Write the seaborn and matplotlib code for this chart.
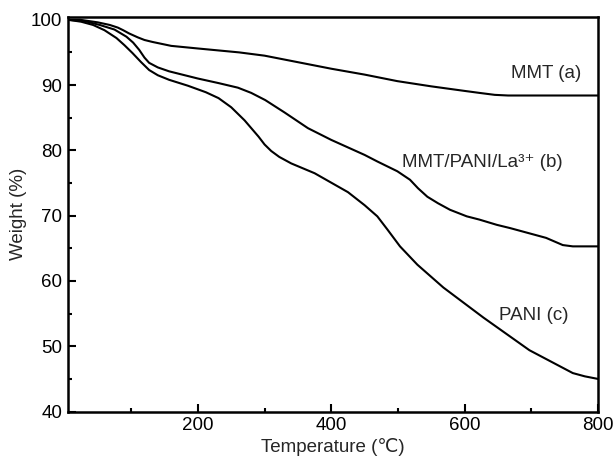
import matplotlib
matplotlib.use("Agg")
import matplotlib.pyplot as plt
import seaborn as sns
from matplotlib.ticker import MultipleLocator

# --- Data ---
mmt_temp = [5, 23, 50, 68, 80, 88, 97, 110, 120, 132, 146, 160, 200, 231, 262, 300, 350,
            380, 400, 450, 499, 550, 600, 622, 645, 665, 700, 750, 800]
mmt_weight = [100, 100, 99.6, 99.2, 98.8, 98.4, 97.9, 97.3, 96.9, 96.6, 96.3, 96.0, 95.6,
              95.3, 95.0, 94.5, 93.5, 92.9, 92.5, 91.6, 90.6, 89.8, 89.1, 88.8, 88.5,
              88.4, 88.4, 88.4, 88.4]

comp_temp = [5, 30, 53, 75, 93, 103, 112, 120, 127, 140, 157, 200, 231, 260, 280, 301,
             330, 365, 400, 450, 469, 499, 518, 530, 544, 560, 578, 603, 622, 648, 668,
             722, 747, 762, 800]
comp_weight = [100, 99.8, 99.2, 98.5, 97.4, 96.5, 95.4, 94.2, 93.4, 92.7, 92.1, 91.0,
               90.3, 89.6, 88.8, 87.7, 85.8, 83.4, 81.6, 79.3, 78.3, 76.8, 75.5, 74.2,
               72.9, 71.9, 70.9, 69.9, 69.4, 68.6, 68.1, 66.6, 65.5, 65.3, 65.3]

pani_temp = [5, 25, 43, 60, 78, 90, 102, 115, 127, 140, 157, 185, 212, 231, 250, 270,
             291, 300, 310, 322, 340, 375, 425, 450, 469, 484, 503, 529, 568, 598, 628,
             697, 762, 780, 800]
pani_weight = [100, 99.7, 99.2, 98.4, 97.2, 96.1, 94.9, 93.5, 92.3, 91.5, 90.8, 89.9,
               88.9, 88.0, 86.6, 84.6, 82.1, 80.9, 79.9, 79.0, 78.0, 76.5, 73.6, 71.6,
               69.9, 67.9, 65.3, 62.5, 59.0, 56.7, 54.4, 49.4, 45.9, 45.4, 45.0]

labels = ["MMT (a)", "MMT/PANI/La\u00b3\u207a (b)", "PANI (c)"]

# --- Style ---
sns.set_style("ticks")
plt.rcParams["font.family"] = ["Liberation Sans", "DejaVu Sans"]
plt.rcParams["font.size"] = 13.5

fig = plt.figure(figsize=(6.16, 4.63), dpi=100)
ax = fig.add_axes([0.110, 0.111, 0.861, 0.852])

for t, w in [(mmt_temp, mmt_weight), (comp_temp, comp_weight), (pani_temp, pani_weight)]:
    sns.lineplot(x=t, y=w, ax=ax, color="black", linewidth=1.5, estimator=None, sort=False)

ax.text(775, 91.7, labels[0], ha="right", va="center", fontsize=13.5)
ax.text(747, 78.2, labels[1], ha="right", va="center", fontsize=13.5)
ax.text(756, 54.7, labels[2], ha="right", va="center", fontsize=13.5)

ax.set_xlim(5, 800)
ax.set_ylim(40, 100.4)
ax.xaxis.set_major_locator(MultipleLocator(200))
ax.xaxis.set_minor_locator(MultipleLocator(100))
ax.yaxis.set_major_locator(MultipleLocator(10))
ax.yaxis.set_minor_locator(MultipleLocator(5))
ax.tick_params(which="both", direction="in", width=1.5, colors="black", labelsize=13.5)
ax.tick_params(which="major", length=6, pad=4)
ax.tick_params(which="minor", length=3)
for s in ax.spines.values():
    s.set_linewidth(1.8)
    s.set_color("black")

ax.set_xlabel("Temperature (\u2103)", fontsize=13.5, labelpad=3)
ax.set_ylabel("Weight (%)", fontsize=13.5, labelpad=3)

fig.savefig("out.png", dpi=100)
